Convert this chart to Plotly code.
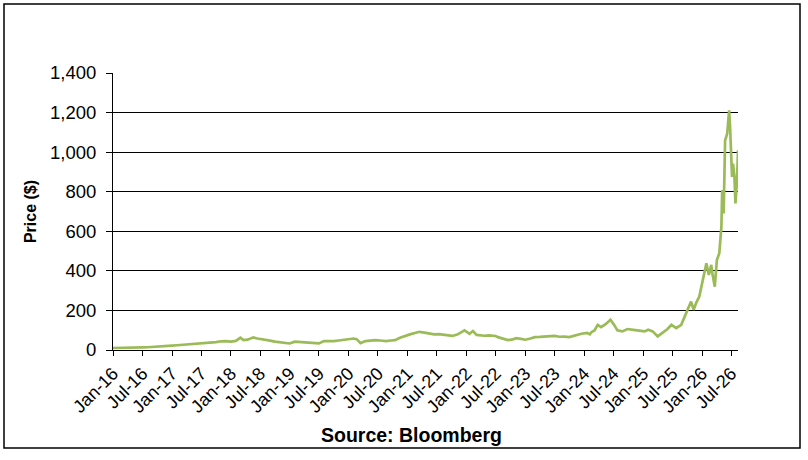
import plotly.graph_objects as go

# price readings (US$)
dates = [
    "2016-01-01", "2016-02-01", "2016-03-01", "2016-04-01", "2016-05-01", "2016-06-01",
    "2016-07-01", "2016-08-01", "2016-09-01", "2016-10-01", "2016-11-01", "2016-12-01",
    "2017-01-01", "2017-02-01", "2017-03-01", "2017-04-01", "2017-05-01", "2017-06-01",
    "2017-07-01", "2017-08-01", "2017-09-01", "2017-10-01", "2017-11-01", "2017-12-01",
    "2018-01-01", "2018-02-01", "2018-03-01", "2018-03-20", "2018-04-15", "2018-05-20",
    "2018-06-15", "2018-07-01", "2018-08-01", "2018-09-01", "2018-10-01", "2018-11-01",
    "2018-12-01", "2019-01-01", "2019-02-01", "2019-03-01", "2019-04-01", "2019-05-01",
    "2019-06-01", "2019-07-01", "2019-08-01", "2019-09-01", "2019-10-01", "2019-11-01",
    "2019-12-01", "2020-01-01", "2020-02-01", "2020-02-20", "2020-03-15", "2020-04-15",
    "2020-05-15", "2020-06-15", "2020-07-15", "2020-08-20", "2020-09-20", "2020-10-15",
    "2020-11-15", "2020-12-15", "2021-01-15", "2021-02-15", "2021-03-15", "2021-04-15",
    "2021-05-10", "2021-06-15", "2021-07-15", "2021-08-15", "2021-09-15", "2021-10-05",
    "2021-11-05", "2021-11-20", "2021-12-20", "2022-01-20", "2022-02-10", "2022-03-05",
    "2022-04-20", "2022-05-20", "2022-06-15", "2022-07-01", "2022-07-15", "2022-08-15",
    "2022-09-15", "2022-10-15", "2022-11-05", "2022-12-05", "2023-01-01", "2023-02-01",
    "2023-03-01", "2023-04-01", "2023-05-01", "2023-06-01", "2023-07-01", "2023-08-01",
    "2023-09-01", "2023-10-01", "2023-11-01", "2023-12-15", "2024-01-20", "2024-02-05",
    "2024-02-15", "2024-03-05", "2024-03-25", "2024-04-15", "2024-05-15", "2024-06-12",
    "2024-07-05", "2024-07-25", "2024-08-25", "2024-09-25", "2024-11-01", "2024-12-10",
    "2025-01-10", "2025-02-01", "2025-03-01", "2025-04-01", "2025-05-01", "2025-06-01",
    "2025-06-25", "2025-07-25", "2025-08-25", "2025-09-15", "2025-10-05", "2025-10-25",
    "2025-11-10", "2025-11-25", "2025-12-15", "2025-12-28", "2026-01-18", "2026-01-28",
    "2026-02-12", "2026-02-27", "2026-03-06", "2026-03-21", "2026-04-03", "2026-04-18",
    "2026-05-01", "2026-05-06", "2026-05-15", "2026-05-21", "2026-05-24", "2026-06-06",
    "2026-06-12", "2026-06-18", "2026-06-24", "2026-07-01", "2026-07-06", "2026-07-12",
    "2026-07-21", "2026-07-27", "2026-08-06", "2026-08-12",
]
price = [
    10, 10, 11, 11, 12, 12,
    13, 14, 15, 17, 18, 20,
    22, 24, 26, 27, 29, 31,
    32, 33, 36, 40, 44, 45,
    42, 46, 62, 50, 52, 64,
    58, 55, 50, 47, 42, 38,
    36, 33, 42, 40, 41, 38,
    36, 33, 45, 44, 45, 48,
    52, 57, 58, 55, 35, 45,
    48, 50, 48, 45, 48, 50,
    62, 72, 79, 86, 92, 88,
    84, 79, 80, 76, 74, 71,
    78, 86, 99, 82, 96, 76,
    72, 74, 70, 71, 65, 58,
    50, 54, 60, 56, 52, 58,
    65, 66, 68, 69, 71, 67,
    68, 65, 72, 82, 86, 79,
    90, 99, 127, 116, 132, 153,
    127, 99, 94, 106, 102, 99,
    94, 102, 94, 69, 86, 106,
    127, 111, 127, 169, 203, 245,
    203, 237, 270, 320, 404, 438,
    379, 430, 388, 320, 455, 489,
    623, 808, 690, 925, 1059, 1093,
    1160, 1211, 1126, 1009, 875, 942,
    875, 741, 858, 1009,
]

tick_dates = [f"{y}-{m}-01" for y in range(2016, 2027) for m in ("01", "07")]
tick_labels = [f"{m}-{str(y)[2:]}" for y in range(2016, 2027) for m in ("Jan", "Jul")]
y_ticks = [0, 200, 400, 600, 800, 1000, 1200, 1400]

font = "Liberation Sans, Arial, sans-serif"

fig = go.Figure()
fig.add_scatter(x=dates, y=price, mode="lines",
                line=dict(color="#9BBB59", width=2.7), showlegend=False)

fig.update_layout(
    width=808, height=460,
    margin=dict(l=113, r=70, t=73, b=110),
    paper_bgcolor="white", plot_bgcolor="white",
    font=dict(family=font, color="black"),
    xaxis=dict(
        type="date", range=["2016-01-01", "2026-08-12"],
        tickvals=tick_dates, ticktext=tick_labels, tickangle=-45,
        tickfont=dict(size=18), ticks="outside", ticklen=5, tickcolor="black",
        showline=True, linecolor="black", linewidth=1,
        showgrid=False, zeroline=False,
    ),
    yaxis=dict(
        range=[0, 1400], tickvals=y_ticks, tickformat=",d",
        tickfont=dict(size=18.5), ticks="outside", ticklen=6, tickcolor="black",
        ticklabelstandoff=6,
        showline=True, linecolor="black", linewidth=1,
        showgrid=True, gridcolor="black", gridwidth=1, zeroline=False,
        title=dict(text="<b>Price ($)</b>", font=dict(size=16), standoff=9),
    ),
)

fig.add_annotation(text="<b>Source: Bloomberg</b>", xref="paper", yref="paper",
                   x=0.478, y=-0.307, xanchor="center", yanchor="middle",
                   showarrow=False, font=dict(size=19.5))

# chart frame
fig.add_shape(type="rect", xref="paper", yref="paper",
              x0=-0.1744, x1=1.0992, y0=-0.3538, y1=1.249,
              line=dict(color="black", width=1.5))

fig.write_html("out.html", config={"displayModeBar": False},
               post_script="document.body.style.margin = '0px';")
